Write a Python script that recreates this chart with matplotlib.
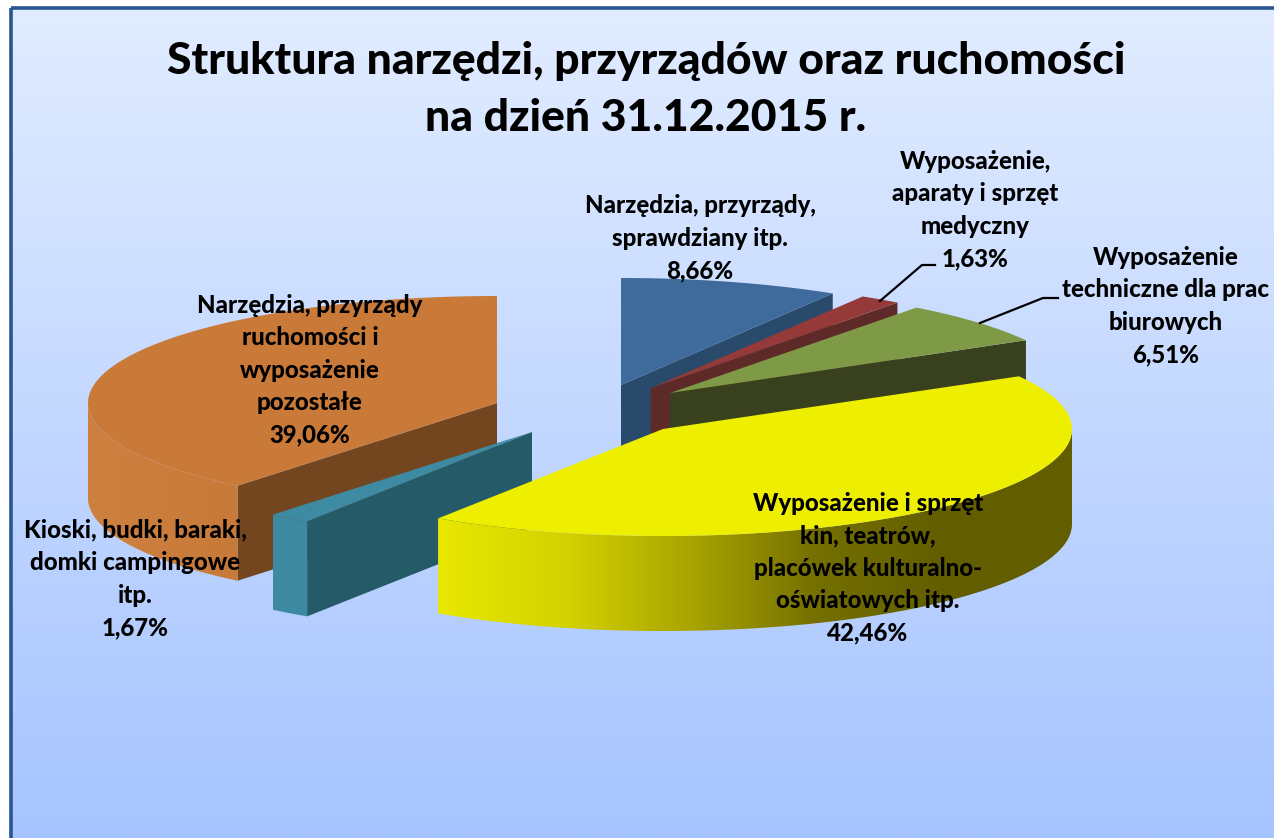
import matplotlib
matplotlib.use('Agg')
import matplotlib.pyplot as plt
import numpy as np
from matplotlib.colors import LinearSegmentedColormap
from matplotlib.patches import Polygon, Rectangle

W, H = 1274, 838

title = 'Struktura narzędzi, przyrządów oraz ruchomości\nna dzień 31.12.2015 r.'

# clockwise from twelve o'clock
values = [8.66, 1.63, 6.51, 42.46, 1.67, 39.06]
names = ['Narzędzia, przyrządy,\nsprawdziany itp.',
         'Wyposażenie,\naparaty i sprzęt\nmedyczny',
         'Wyposażenie\ntechniczne dla prac\nbiurowych',
         'Wyposażenie i sprzęt\nkin, teatrów,\nplacówek kulturalno-\noświatowych itp.',
         'Kioski, budki, baraki,\ndomki campingowe\nitp.',
         'Narzędzia, przyrządy\nruchomości i\nwyposażenie\npozostałe']

# look of the slices
top_col = ['#3f6b9c', '#953a38', '#7f9a47', '#eeee00', '#3d8aa2', '#c97a38']
cut_col = ['#2a4a6c', '#5e2a28', '#39401d', '#6a6600', '#255a68', '#744620']
wall_col = [['#3f6b9c'], ['#953a38'], ['#7f9a47'],
            ['#e8e800', '#d4d200', '#a8a400', '#746f00', '#625e00', '#625e00'],
            ['#3d8aa2', '#3d8aa2'], ['#cd8040', '#c87a38']]
# exploded position of every slice apex, pixels
apex_x = [621, 651, 670, 663, 532, 497]
apex_y = [385, 388, 393, 429, 432, 403]
rx, ry, depth = 409, 107, 95
draw_order = [5, 0, 1, 2, 4, 3]

label_x = [700, 975, 1166, 868, 135, 310]
label_y = [238, 210, 306, 568, 579, 370]

fig = plt.figure(figsize=(W / 100, H / 100), dpi=100, facecolor='white')
ax = fig.add_axes([0, 0, 1, 1])
ax.set_xlim(0, W)
ax.set_ylim(H, 0)
ax.axis('off')


def gradient(colors, extent, vertical=False, clip=None, z=1):
    cmap = LinearSegmentedColormap.from_list('g', colors if len(colors) > 1 else colors * 2, N=1024)
    g = np.linspace(0, 1, 512)
    g = g.reshape(-1, 1) if vertical else g.reshape(1, -1)
    im = ax.imshow(g, cmap=cmap, extent=extent, aspect='auto', origin='upper', zorder=z,
                   interpolation='bilinear')
    if clip is not None:
        im.set_clip_path(clip)
    return im


def point(cx, cy, deg):
    t = np.radians(deg)
    return cx + rx * np.cos(t), cy - ry * np.sin(t)


# background panel
gradient(['#e1ecff', '#a6c4ff'], (10, W, H, 8), vertical=True, z=0)
ax.add_patch(Rectangle((10.5, 8.5), W, H, fill=False, ec='#2a5590', lw=2.6, zorder=0.5))

starts = 90 - 360 * np.cumsum([0] + values[:-1]) / sum(values)
sweeps = 360 * np.array(values) / sum(values)

z = 2
for i in draw_order:
    cx, cy = apex_x[i], apex_y[i]
    a0, a1 = starts[i], starts[i] - sweeps[i]

    # cut faces looking towards the viewer
    for deg, seen in [(a1, np.cos(np.radians(a1)) > 1e-6), (a0, np.cos(np.radians(a0)) < -1e-6)]:
        if seen:
            px, py = point(cx, cy, deg)
            ax.add_patch(Polygon([(cx, cy), (px, py), (px, py + depth), (cx, cy + depth)],
                                 fc=cut_col[i], ec='none', zorder=z))
            z += 1

    # outer wall, front half of the ellipse only
    lo, hi = max(a1, -180), min(a0, 0)
    if lo < hi:
        t = np.linspace(lo, hi, 200)
        xs, ys = point(cx, cy, t)
        poly = Polygon(np.r_[np.c_[xs, ys], np.c_[xs[::-1], ys[::-1] + depth]],
                       fc='none', ec='none', transform=ax.transData, zorder=z)
        ax.add_patch(poly)
        gradient(wall_col[i], (xs.min(), xs.max(), ys.max() + depth + 1, ys.min() - 1), clip=poly, z=z)
        z += 1

    # top face
    t = np.linspace(a1, a0, 300)
    xs, ys = point(cx, cy, t)
    ax.add_patch(Polygon(np.r_[[(cx, cy)], np.c_[xs, ys]], fc=top_col[i], ec='none', zorder=z))
    z += 1

ax.set_xlim(0, W)
ax.set_ylim(H, 0)

# leader lines
ax.plot([880, 922, 935], [301, 265, 265], color='black', lw=1.6, zorder=50)
ax.plot([980, 1043, 1058], [323, 298, 298], color='black', lw=1.6, zorder=50)

font = ['Lato', 'DejaVu Sans']
ax.text(646, 89.5, title, ha='center', va='center', fontsize=32, fontweight='black', family=font,
        color='black', linespacing=1.5, zorder=60)

for i in range(len(values)):
    txt = names[i] + '\n' + ('%.2f%%' % values[i]).replace('.', ',')
    ax.text(label_x[i], label_y[i], txt, ha='center', va='center', fontsize=17.3, fontweight='black',
            family=font, color='black', linespacing=1.5, zorder=60)

fig.savefig('out.png', dpi=100)
